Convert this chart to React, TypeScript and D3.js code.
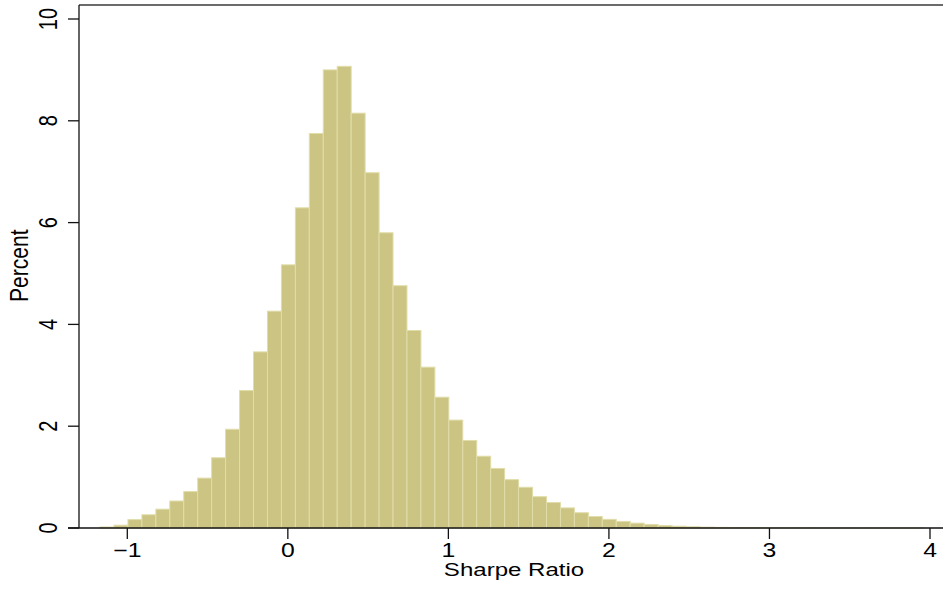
import React from "react";
import * as d3 from "d3";

// Histogram of Sharpe ratios (percent of observations per bin)
const binStart = -1.1697;
const binWidth = 0.0869;
const percent: number[] = [
  0.02, 0.055, 0.165, 0.26, 0.37, 0.53, 0.715, 0.98, 1.38, 1.94,
  2.7, 3.46, 4.26, 5.17, 6.29, 7.75, 9.0, 9.07, 8.15, 6.98,
  5.8, 4.76, 3.88, 3.16, 2.57, 2.12, 1.72, 1.41, 1.17, 0.95,
  0.8, 0.615, 0.5, 0.395, 0.3, 0.225, 0.17, 0.13, 0.095, 0.07,
  0.05, 0.035, 0.025, 0.017, 0.012, 0.009, 0.007, 0.005, 0.004, 0.003,
  0.003, 0.002, 0.002, 0.002, 0.001, 0.001, 0.001, 0.001, 0.001, 0.0,
];
const xTicks: number[] = [-1, 0, 1, 2, 3, 4];
const yTicks: number[] = [0, 2, 4, 6, 8, 10];
const xTitle = "Sharpe Ratio";
const yTitle = "Percent";

const W = 943;
const H = 592;

export default function App() {
  const x = d3.scaleLinear().domain([-1, 4]).range([127.3, 930]);
  const y = d3.scaleLinear().domain([0, 10]).range([528, 19]);
  const left = 79;
  const right = W;
  const top = 5;
  const bottom = y(0);
  const font = "'Liberation Sans', Arial, Helvetica, sans-serif";
  const sx = 1.27;
  const fmt = (v: number) => (v < 0 ? "\u2212" + Math.abs(v) : String(v));

  return (
    <svg
      width={W}
      height={H}
      style={{ position: "absolute", left: 0, top: 0, background: "#fff" }}
    >
      {/* bars */}
      <g>
        {percent.map((p, i) => {
          const x0 = x(binStart + i * binWidth);
          const x1 = x(binStart + (i + 1) * binWidth);
          const y0 = y(p);
          return (
            <rect
              key={i}
              x={x0}
              y={y0}
              width={x1 - x0}
              height={Math.max(0, bottom - y0)}
              fill="#cbc482"
              stroke="#e1dda9"
              strokeWidth={1}
            />
          );
        })}
      </g>
      {/* frame */}
      <line x1={left} x2={right} y1={top} y2={top} stroke="#3a3a3a" strokeWidth={1.4} />
      <line x1={left} x2={left} y1={top} y2={bottom} stroke="#111" strokeWidth={1.3} />
      <line x1={68} x2={right} y1={bottom} y2={bottom} stroke="#111" strokeWidth={1.3} />
      {/* y ticks */}
      {yTicks.map((t) => (
        <g key={"y" + t}>
          <line x1={68} x2={left} y1={y(t)} y2={y(t)} stroke="#111" strokeWidth={1.3} />
          <text
            transform={`translate(56.5,${y(t)}) scale(${sx},1) rotate(-90)`}
            textAnchor="middle"
            fontFamily={font}
            fontSize={20}
            fill="#000"
          >
            {fmt(t)}
          </text>
        </g>
      ))}
      {/* x ticks */}
      {xTicks.map((t) => (
        <g key={"x" + t}>
          <line x1={x(t)} x2={x(t)} y1={bottom} y2={bottom + 11} stroke="#111" strokeWidth={1.3} />
          <text
            transform={`translate(${x(t)},557.3) scale(${sx},1)`}
            textAnchor="middle"
            fontFamily={font}
            fontSize={19.5}
            fill="#000"
          >
            {fmt(t)}
          </text>
        </g>
      ))}
      {/* titles */}
      <text
        transform={`translate(514,575.8) scale(1.3,1)`}
        textAnchor="middle"
        fontFamily={font}
        fontSize={18.5}
        fill="#000"
      >
        {xTitle}
      </text>
      <text
        transform={`translate(28.3,265.7) scale(${sx},1) rotate(-90)`}
        textAnchor="middle"
        fontFamily={font}
        fontSize={21}
        fill="#000"
      >
        {yTitle}
      </text>
    </svg>
  );
}
